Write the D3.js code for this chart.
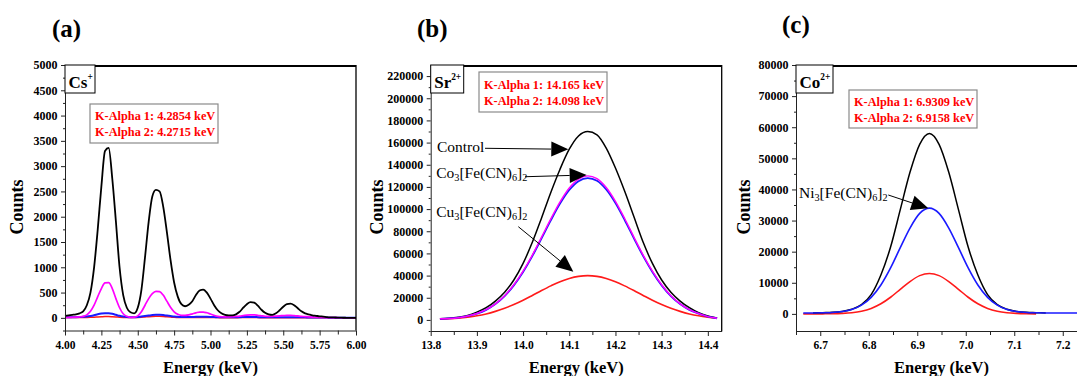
<!DOCTYPE html>
<html><head><meta charset="utf-8">
<script src="https://cdn.jsdelivr.net/npm/d3@7"></script>
<style>
body{margin:0;background:#fff;}
svg{display:block;}
text{font-family:"Liberation Serif","Times New Roman",serif;}
</style></head><body>
<svg id="chart" width="1077" height="376"></svg>
<script>
// ---------- Panel (a) Cs+ ----------
const aEnergy = [4.000,4.025,4.050,4.075,4.100,4.125,4.150,4.175,4.200,4.225,4.250,4.275,4.300,4.325,4.350,4.375,4.400,4.425,4.450,4.475,4.500,4.525,4.550,4.575,4.600,4.625,4.650,4.675,4.700,4.725,4.750,4.775,4.800,4.825,4.850,4.875,4.900,4.925,4.950,4.975,5.000,5.025,5.050,5.075,5.100,5.125,5.150,5.175,5.200,5.225,5.250,5.275,5.300,5.325,5.350,5.375,5.400,5.425,5.450,5.475,5.500,5.525,5.550,5.575,5.600,5.625,5.650,5.675,5.700,5.725,5.750,5.775,5.800,5.825,5.850,5.875,5.900,5.925,5.950,5.975,6.000];
const aControl = [40,50,60,70,90,130,250,500,1000,1750,2600,3300,3360,2750,1900,1000,450,200,110,90,200,550,1200,1900,2400,2530,2500,2200,1700,1150,700,420,270,230,260,330,450,540,560,500,380,250,150,90,60,50,50,70,120,200,270,310,300,240,160,100,70,60,90,150,220,270,280,250,190,130,90,70,50,40,30,25,15,10,8,5,3,2,0,0,0];
const aCoHCF = [10,10,12,15,20,30,60,130,250,420,580,690,695,580,380,200,80,30,10,15,40,120,250,380,480,525,520,450,330,210,120,70,50,50,60,80,100,115,115,100,75,50,30,22,20,20,22,28,35,45,55,60,60,52,42,32,28,30,35,40,45,50,50,45,38,30,25,20,15,12,10,8,6,5,4,3,2,2,2,1,1];
const aNiHCF = [10,10,10,12,15,20,25,35,50,70,85,92,90,80,60,40,25,15,10,10,15,25,35,45,55,60,60,55,45,35,25,20,15,15,15,18,20,22,22,20,18,15,12,10,10,10,10,12,14,15,16,16,16,14,12,10,10,10,10,12,13,14,14,13,12,10,10,8,8,7,6,5,5,4,4,3,3,3,2,2,2];
const aCuHCF = [5,5,5,5,5,6,8,10,12,18,22,25,25,22,18,12,8,5,5,5,8,12,18,24,28,30,30,28,22,16,10,8,6,5,5,6,7,8,8,7,6,5,5,4,4,4,4,4,5,5,5,5,5,5,4,4,4,4,4,4,4,4,4,4,4,3,3,3,3,3,2,2,2,2,2,1,1,1,1,1,1];
const aXTicks = [4.00,4.25,4.50,4.75,5.00,5.25,5.50,5.75,6.00];
const aXMinor = [4.125,4.375,4.625,4.875,5.125,5.375,5.625,5.875];
const aYTicks = [0,500,1000,1500,2000,2500,3000,3500,4000,4500,5000];
const aYMinor = [-250,250,750,1250,1750,2250,2750,3250,3750,4250,4750];

// ---------- Panel (b) Sr2+ ----------
const bEnergy = [13.82,13.84,13.86,13.88,13.90,13.92,13.94,13.96,13.98,14.00,14.02,14.04,14.06,14.08,14.10,14.12,14.14,14.16,14.18,14.20,14.22,14.24,14.26,14.28,14.30,14.32,14.34,14.36,14.38,14.40,14.42];
const bControl = [1000,1500,2500,4000,7000,11000,17000,25000,36000,51000,70000,92000,115000,136000,154000,166000,170000,167000,155000,137000,116000,93000,70000,51000,36000,25000,17000,11000,6500,3500,1800];
const bCoHCF = [1000,1300,2000,3500,5800,9200,14500,21800,31700,44000,58500,74700,91200,106500,119000,127100,130000,127500,119500,107000,91500,74700,58500,44000,31700,21800,14500,9200,5800,3000,1500];
const bNiHCF = [1000,1300,2000,3400,5700,9100,14300,21500,31200,43300,57600,73600,89800,104900,117200,125200,128000,125600,117700,105400,90100,73600,57600,43300,31200,21500,14300,9100,5700,3000,1500];
const bCuHCF = [600,1000,1600,2500,3700,5400,7700,10500,13900,17800,22100,26500,30700,34500,37400,39300,40000,39300,37400,34500,30700,26500,22100,17800,13900,10500,7700,5400,3700,2500,1600];
const bXTicks = [13.8,13.9,14.0,14.1,14.2,14.3,14.4];
const bXMinor = [13.85,13.95,14.05,14.15,14.25,14.35];
const bYTicks = [0,20000,40000,60000,80000,100000,120000,140000,160000,180000,200000,220000];
const bYMinor = [-10000,10000,30000,50000,70000,90000,110000,130000,150000,170000,190000,210000];

// ---------- Panel (c) Co2+ ----------
const cEnergy = [6.665,6.685,6.705,6.725,6.745,6.765,6.785,6.805,6.825,6.845,6.865,6.885,6.905,6.925,6.945,6.965,6.985,7.005,7.025,7.045,7.065,7.085,7.105,7.125,7.145,7.165,7.185,7.205,7.225,7.245];
const cControl = [null,300,400,500,800,1500,3000,6200,12500,21500,33500,45500,54500,58000,54500,45500,33500,21500,12500,6200,3000,1500,800,500,400,300,null,null,null,null];
const cNiHCF = [300,300,350,450,750,1400,2800,5300,9300,14800,21300,27600,32300,34000,32300,27600,21300,14800,9300,5300,2800,1400,750,450,350,300,300,300,300,300];
const cCuHCF = [0,0,20,50,150,370,850,1760,3250,5350,7900,10400,12300,13000,12300,10400,7900,5350,3250,1760,850,370,150,50,10,null,null,null,null,null];
const cXTicks = [6.7,6.8,6.9,7.0,7.1,7.2];
const cXMinor = [6.65,6.75,6.85,6.95,7.05,7.15,7.25];
const cYTicks = [0,10000,20000,30000,40000,50000,60000,70000,80000];
const cYMinor = [5000,15000,25000,35000,45000,55000,65000,75000];

// ---------- Text ----------
const panelLetters = ["(a)","(b)","(c)"];
const ionNames = [["Cs","+"],["Sr","2+"],["Co","2+"]];
const kAlphaLines = [
  ["K-Alpha 1: 4.2854 keV","K-Alpha 2: 4.2715 keV"],
  ["K-Alpha 1: 14.165 keV","K-Alpha 2: 14.098 keV"],
  ["K-Alpha 1: 6.9309 keV","K-Alpha 2: 6.9158 keV"]
];
const xTitle = "Energy (keV)";
const yTitle = "Counts";
const labControl = [["Control",0]];
const labCo = [["Co",0],["3",1],["[Fe(CN)",0],["6",1],["]",0],["2",1]];
const labCu = [["Cu",0],["3",1],["[Fe(CN)",0],["6",1],["]",0],["2",1]];
const labNi = [["Ni",0],["3",1],["[Fe(CN)",0],["6",1],["]",0],["2",1]];

const COLORS = {control:"#000000", co:"#ff00ff", ni:"#1a1aff", cu:"#ff1a1a"};

const svg = d3.select("#chart");

function richText(g, x, y, parts, size, weight, fill) {
  const t = g.append("text").attr("x", x).attr("y", y)
    .attr("font-size", size).attr("font-weight", weight || "normal").attr("fill", fill || "#000");
  let shifted = 0;
  parts.forEach(([s, sub]) => {
    const ts = t.append("tspan").text(s);
    if (sub === 1) { ts.attr("font-size", size * 0.66).attr("dy", 3 - shifted); shifted = 3; }
    else if (sub === 2) { ts.attr("font-size", size * 0.55).attr("dy", -8 - shifted); shifted = -8; }
    else { if (shifted !== 0) ts.attr("dy", -shifted); shifted = 0; }
  });
  return t;
}

function arrow(g, x1, y1, x2, y2) {
  const L = 17, H = 7.5;
  const dx = x2 - x1, dy = y2 - y1, len = Math.hypot(dx, dy);
  const ux = dx / len, uy = dy / len;
  const bx = x2 - ux * L, by = y2 - uy * L;
  g.append("line").attr("x1", x1).attr("y1", y1).attr("x2", bx).attr("y2", by)
    .attr("stroke", "#000").attr("stroke-width", 1);
  g.append("path").attr("d",
    `M${x2},${y2}L${bx - uy * H},${by + ux * H}L${bx + uy * H},${by - ux * H}Z`)
    .attr("fill", "#000");
}

function panel(cfg) {
  const x = d3.scaleLinear().domain(cfg.xDomain).range(cfg.xRange);
  const y = d3.scaleLinear().domain(cfg.yDomain).range(cfg.yRange);
  const g = svg.append("g");
  const [x0, x1] = cfg.xRange, [yb, yt] = cfg.yRange;

  // series
  const line = d3.line().defined(d => d[1] != null)
    .x(d => x(d[0])).y(d => y(d[1])).curve(d3.curveMonotoneX);
  cfg.series.forEach(s => {
    const pts = cfg.energy.map((e, i) => [e, s.values[i]]);
    g.append("path").datum(pts).attr("fill", "none")
      .attr("stroke", s.color).attr("stroke-width", s.width)
      .attr("stroke-linejoin", "round").attr("d", line);
  });

  // frame: top and right
  g.append("line").attr("x1", x0).attr("x2", x1).attr("y1", yt + 1).attr("y2", yt + 1)
    .attr("stroke", "#000").attr("stroke-width", 2);
  g.append("line").attr("x1", x1).attr("x2", x1).attr("y1", yt).attr("y2", yb)
    .attr("stroke", "#000").attr("stroke-width", 1.3);

  // axes
  const styleAxis = sel => {
    sel.attr("font-family", '"Liberation Serif","Times New Roman",serif')
      .attr("font-weight", "bold").attr("font-size", cfg.tickFont);
    sel.selectAll("path.domain").attr("stroke", "#222").attr("stroke-width", 1);
    sel.selectAll(".tick line").attr("stroke", "#222");
  };
  g.append("g").attr("transform", `translate(${x0},0)`)
    .call(d3.axisLeft(y).tickValues(cfg.yMinor).tickSize(2).tickSizeOuter(0).tickFormat(""))
    .call(s => s.select(".domain").remove()).call(styleAxis);
  g.append("g").attr("transform", `translate(${x0},0)`)
    .call(d3.axisLeft(y).tickValues(cfg.yTicks).tickSize(4).tickSizeOuter(0).tickPadding(3.5).tickFormat(d3.format("d")))
    .call(styleAxis).attr("font-size", 12);
  g.append("g").attr("transform", `translate(0,${yb})`)
    .call(d3.axisBottom(x).tickValues(cfg.xMinor).tickSize(4).tickSizeOuter(0).tickFormat(""))
    .call(s => s.select(".domain").remove()).call(styleAxis);
  g.append("g").attr("transform", `translate(0,${yb})`)
    .call(d3.axisBottom(x).tickValues(cfg.xTicks).tickSize(5).tickSizeOuter(0).tickPadding(5).tickFormat(d3.format(cfg.xFormat)))
    .call(styleAxis).attr("font-size", 11.5);

  // titles
  g.append("text").attr("x", (x0 + x1) / 2).attr("y", 373).attr("text-anchor", "middle")
    .attr("font-size", 16.5).attr("font-weight", "bold").text(xTitle);
  g.append("text").attr("transform", `translate(${cfg.countsX},207) rotate(-90)`)
    .attr("text-anchor", "middle").attr("font-size", 18).attr("font-weight", "bold").text(yTitle);
  g.append("text").attr("x", cfg.letterX).attr("y", cfg.letterY)
    .attr("font-size", 25).attr("font-weight", "bold").text(cfg.letter);

  // ion label box
  g.append("rect").attr("x", x0).attr("y", yt).attr("width", cfg.ionW).attr("height", 28)
    .attr("fill", "#fff").attr("stroke", "#000").attr("stroke-width", 1);
  richText(g, x0 + 3.5, yt + 23, [[cfg.ion[0], 0], [cfg.ion[1], 2]], 17, "bold", "#000");

  // K-alpha box
  const kb = cfg.kBox;
  g.append("rect").attr("x", x0 + kb.dx).attr("y", yt + kb.dy).attr("width", 128).attr("height", kb.h)
    .attr("fill", "#fff").attr("stroke", "#8a8a8a").attr("stroke-width", 1.2);
  cfg.kLines.forEach((s, i) => {
    g.append("text").attr("x", x0 + kb.dx + 5).attr("y", yt + kb.dy + kb.b[i])
      .attr("font-size", 12.3).attr("font-weight", "bold").attr("fill", "#ff0000").text(s);
  });

  // annotations
  (cfg.notes || []).forEach(n => {
    richText(g, x(n.tx), y(n.ty), n.parts, 15.5, "normal", "#000");
    arrow(g, x(n.a[0]), y(n.a[1]), x(n.a[2]), y(n.a[3]));
  });
}

panel({
  letter: panelLetters[0], letterX: 52, letterY: 37, countsX: 22.5,
  energy: aEnergy, xDomain: [4, 6], xRange: [65, 356], yDomain: [-250, 5000], yRange: [330.5, 65],
  xTicks: aXTicks, xMinor: aXMinor, yTicks: aYTicks, yMinor: aYMinor, xFormat: ".2f", tickFont: 12,
  ion: ionNames[0], ionW: 30, kLines: kAlphaLines[0], kBox: {dx: 25, dy: 39, h: 39, b: [16, 32]},
  series: [
    {values: aCuHCF, color: COLORS.cu, width: 1.5},
    {values: aNiHCF, color: COLORS.ni, width: 2},
    {values: aCoHCF, color: COLORS.co, width: 1.7},
    {values: aControl, color: COLORS.control, width: 1.8}
  ]
});

panel({
  letter: panelLetters[1], letterX: 417, letterY: 37, countsX: 383,
  energy: bEnergy, xDomain: [13.8, 14.43], xRange: [430.7, 721.7], yDomain: [-10000, 230000], yRange: [331, 65],
  xTicks: bXTicks, xMinor: bXMinor, yTicks: bYTicks, yMinor: bYMinor, xFormat: ".1f", tickFont: 12,
  ion: ionNames[1], ionW: 33, kLines: kAlphaLines[1], kBox: {dx: 48.3, dy: 7, h: 40, b: [16.5, 32.5]},
  series: [
    {values: bCuHCF, color: COLORS.cu, width: 1.6},
    {values: bControl, color: COLORS.control, width: 1.5},
    {values: bNiHCF, color: COLORS.ni, width: 1.8},
    {values: bCoHCF, color: COLORS.co, width: 1.4}
  ],
  notes: [
    {parts: labControl, tx: 13.8135, ty: 151800, a: [13.9176, 154850, 14.0979, 153950]},
    {parts: labCo, tx: 13.812, ty: 127800, a: [14.0042, 129200, 14.1377, 130760]},
    {parts: labCu, tx: 13.812, ty: 93130, a: [13.9897, 84110, 14.1087, 43510]}
  ]
});

panel({
  letter: panelLetters[2], letterX: 782, letterY: 33, countsX: 750,
  energy: cEnergy, xDomain: [6.65, 7.25], xRange: [796, 1087], yDomain: [-5500, 80000], yRange: [331, 65],
  xTicks: cXTicks, xMinor: cXMinor, yTicks: cYTicks, yMinor: cYMinor, xFormat: ".1f", tickFont: 12,
  ion: ionNames[2], ionW: 37, kLines: kAlphaLines[2], kBox: {dx: 53, dy: 25, h: 38, b: [15.5, 32]},
  series: [
    {values: cCuHCF, color: COLORS.cu, width: 1.6},
    {values: cControl, color: COLORS.control, width: 1.5},
    {values: cNiHCF, color: COLORS.ni, width: 1.6}
  ],
  notes: [
    {parts: labNi, tx: 6.6562, ty: 37090, a: [6.8403, 38210, 6.9228, 33940]}
  ]
});
</script>
</body></html>
